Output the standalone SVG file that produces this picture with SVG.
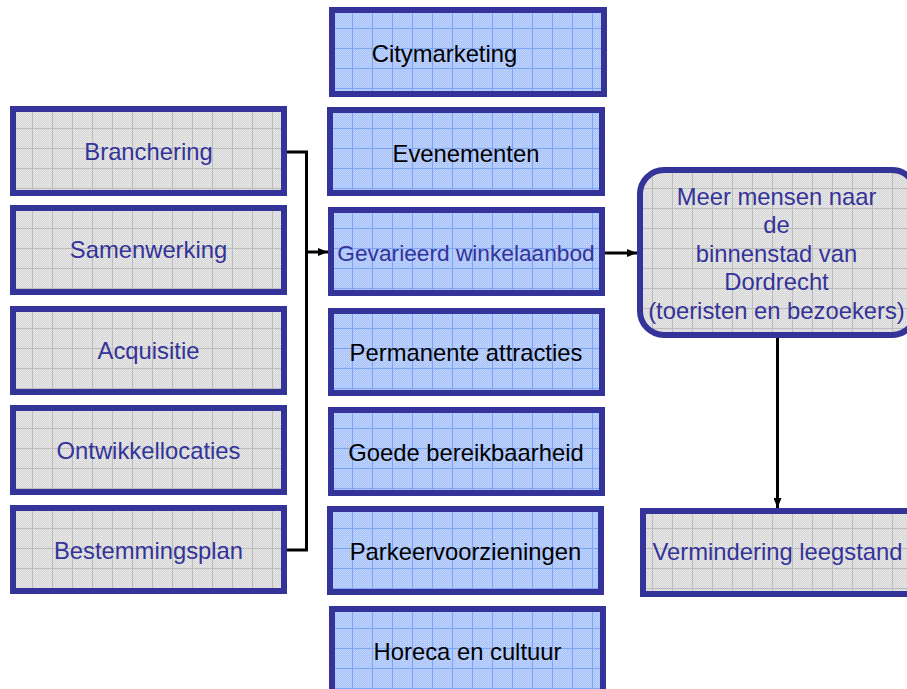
<svg xmlns="http://www.w3.org/2000/svg" width="907" height="689" viewBox="0 0 907 689">
<defs>
<pattern id="chkG" width="2" height="2" patternUnits="userSpaceOnUse"><rect width="2" height="2" fill="#d6d6d6"/><rect width="1" height="1" fill="#ececec"/><rect x="1" y="1" width="1" height="1" fill="#e2e2e2"/></pattern>
<pattern id="chkB" width="2" height="2" patternUnits="userSpaceOnUse"><rect width="2" height="2" fill="#a9c3fb"/><rect width="1" height="1" fill="#c8d8fb"/><rect x="1" y="1" width="1" height="1" fill="#b6ccfa"/></pattern>
<pattern id="gridG" width="20" height="20" x="12" y="8" patternUnits="userSpaceOnUse"><rect width="20" height="20" fill="url(#chkG)"/><rect width="20" height="1" fill="#bdbdbd"/><rect width="1" height="20" fill="#bdbdbd"/></pattern>
<pattern id="gridB" width="20" height="20" x="12" y="8" patternUnits="userSpaceOnUse"><rect width="20" height="20" fill="url(#chkB)"/><rect width="20" height="1" fill="#7fa5f3"/><rect width="1" height="20" fill="#7fa5f3"/></pattern>
<marker id="ah" markerWidth="10" markerHeight="8" refX="10" refY="4" orient="auto" markerUnits="userSpaceOnUse"><path d="M0,0 L10,4 L0,8 Z" fill="#000"/></marker>
</defs>
<style>
.g{fill:url(#gridG);stroke:#333399;stroke-width:6}
.b{fill:url(#gridB);stroke:#333399;stroke-width:6}
.t{font-family:"Liberation Sans",Arial,sans-serif;font-size:23.8px;text-anchor:middle}
.tb{fill:#333399}
.tk{fill:#000}
.c{fill:none;stroke:#000;stroke-width:3}
</style>
<g id="n-branchering"><rect class="g" x="13" y="109" width="271" height="84"/><text class="t tb" x="148.5" y="160">Branchering</text></g>
<g id="n-samenwerking"><rect class="g" x="13" y="208" width="271" height="84"/><text class="t tb" x="148.5" y="258">Samenwerking</text></g>
<g id="n-acquisitie"><rect class="g" x="13" y="309" width="271" height="83"/><text class="t tb" x="148.5" y="359">Acquisitie</text></g>
<g id="n-ontwikkellocaties"><rect class="g" x="13" y="408" width="271" height="84"/><text class="t tb" x="148.5" y="459">Ontwikkellocaties</text></g>
<g id="n-bestemmingsplan"><rect class="g" x="13" y="508" width="271" height="83"/><text class="t tb" x="148.5" y="559">Bestemmingsplan</text></g>

<g id="n-citymarketing"><rect class="b" x="332" y="10" width="272" height="84"/><text class="t tk" x="444.5" y="62">Citymarketing</text></g>
<g id="n-evenementen"><rect class="b" x="330" y="110" width="272" height="83"/><text class="t tk" x="466" y="162">Evenementen</text></g>
<g id="n-gevarieerd"><rect class="b" x="331" y="210" width="271" height="83"/><text class="t tb" x="466" y="261" style="font-size:22.7px">Gevarieerd winkelaanbod</text></g>
<g id="n-permanente"><rect class="b" x="331" y="311" width="271" height="82"/><text class="t tk" x="466" y="361">Permanente attracties</text></g>
<g id="n-goede"><rect class="b" x="331" y="410" width="271" height="83"/><text class="t tk" x="466" y="461">Goede bereikbaarheid</text></g>
<g id="n-parkeer"><rect class="b" x="330" y="509" width="271" height="83"/><text class="t tk" x="465.5" y="560">Parkeervoorzieningen</text></g>
<g id="n-horeca"><rect class="b" x="332" y="609" width="271" height="83"/><text class="t tk" x="467.5" y="660">Horeca en cultuur</text></g>

<g id="n-meer"><rect class="g" x="640" y="170" width="276" height="165" rx="24" ry="24"/>
<text class="t tb" x="776.5" y="205">Meer mensen naar</text>
<text class="t tb" x="776.5" y="233">de</text>
<text class="t tb" x="776.5" y="262">binnenstad van</text>
<text class="t tb" x="776.5" y="290">Dordrecht</text>
<text class="t tb" x="776.5" y="319">(toeristen en bezoekers)</text></g>
<g id="n-vermindering"><rect class="g" x="643" y="511" width="273" height="83"/><text class="t tb" x="777.5" y="560">Vermindering leegstand</text></g>

<g id="connectors">
<path class="c" d="M287,152 H306.5 V550 H287"/>
<path class="c" d="M306.5,252 H328" marker-end="url(#ah)"/>
<path class="c" d="M605,253 H637" marker-end="url(#ah)"/>
<path class="c" d="M777.5,338 V508" marker-end="url(#ah)"/>
</g>
</svg>
